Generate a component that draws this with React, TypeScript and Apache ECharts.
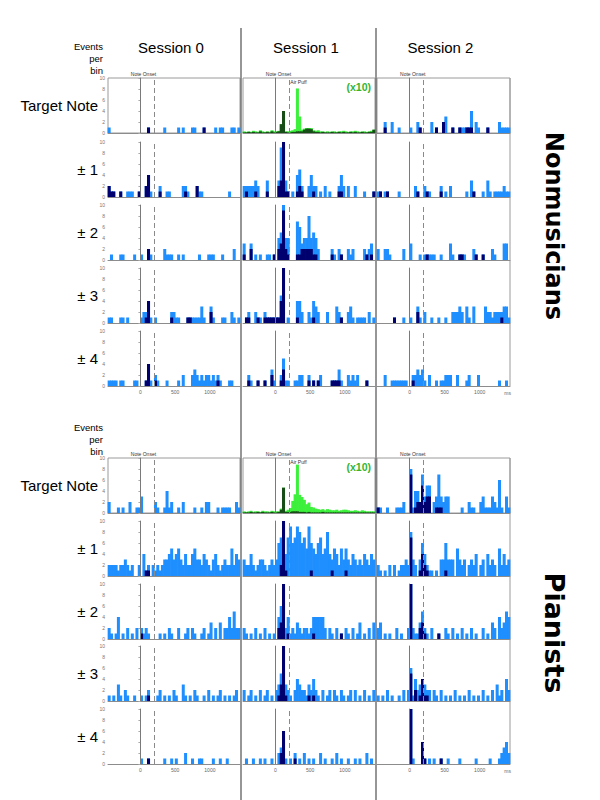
import React, { useEffect, useRef } from "react";
import * as echarts from "echarts";

// ---------- bins ----------
const N_BINS = 57;
const BIN_MS = 100 / 3;
const X_MIN = -14 * BIN_MS;
const X_MAX = X_MIN + N_BINS * BIN_MS;
const X_TICKS = [0, 500, 1000];
const Y_TICKS_MAX = 10;
const ONSET_MS = 0;
const PUFF_MS = 200;

const SESSIONS = ["Session 0", "Session 1", "Session 2"];
const ROW_LABELS = ["Target Note", "± 1", "± 2", "± 3", "± 4"];
const GROUPS = ["Nonmusicians", "Pianists"];

// ---------- data: [bin, count] pairs (total = light, subset = dark) ----------
// Nonmusicians, Target note
const NM_T_S0_ALL = [[0,1],[17,1],[24,1],[30,1],[32,1],[36,1],[37,1],[41,1],[46,1],[48,1],[49,1],[53,1],[54,1],[56,1]];
const NM_T_S0_SUB = [[17,1],[41,1]];
// session 1 target (x10, dense)
const NM_T_S1_ALL = [0.3,0.2,0.3,0.2,0.4,0.3,0.2,0.5,0.3,0.2,0.3,0.2,0.5,0.3,0.3,0.4,1.6,4.0,0.3,0.3,0.4,0.5,0.7,8.1,3.0,0.6,0.8,0.9,0.9,0.9,0.5,0.4,0.5,0.3,0.3,0.2,0.3,0.2,0.3,0.3,0.2,0.3,0.3,0.4,0.3,0.2,0.3,0.3,0.4,0.3,0.2,0.3,0.3,0.2,0.3,0.4,0.6];
const NM_T_S1_SUB = [0.1,0.1,0.2,0.1,0.2,0.1,0.1,0.3,0.1,0.1,0.2,0.1,0.3,0.1,0.2,0.3,1.6,4.0,0.2,0.1,0.1,0.2,0.2,0.3,0.3,0.3,0.6,0.8,0.8,0.7,0.3,0.2,0.2,0.1,0.2,0.1,0.1,0.1,0.2,0.1,0.1,0.2,0.1,0.2,0.1,0.1,0.2,0.1,0.2,0.1,0.1,0.2,0.1,0.1,0.2,0.2,0.6];
const NM_T_S2_ALL = [[3,2],[6,2],[9,1],[14,1],[17,2],[18,1],[23,2],[25,1],[28,2],[29,3],[32,1],[35,1],[36,1],[37,1],[38,1],[39,1],[40,4],[42,2],[43,1],[47,1],[52,2],[53,1],[54,1],[55,1],[56,1]];
const NM_T_S2_SUB = [[3,1],[18,1],[25,1],[28,2],[32,1],[35,1],[38,1],[39,1],[40,1],[47,1]];
// Nonmusicians ±1
const NM_1_S0_ALL = [[0,2],[1,1],[2,1],[5,1],[8,1],[9,1],[10,1],[13,1],[16,2],[17,4],[18,1],[22,2],[25,1],[26,1],[32,2],[33,2],[34,1],[38,2],[39,1],[40,1],[52,1]];
const NM_1_S0_SUB = [[0,2],[1,1],[2,1],[5,1],[13,1],[16,2],[17,4],[22,1],[33,1],[38,2]];
const NM_1_S1_ALL = [[0,2],[1,2],[2,2],[3,2],[4,2],[5,3],[6,2],[10,3],[15,3],[16,9],[17,10],[18,3],[19,1],[21,1],[23,4],[24,5],[25,2],[28,2],[29,4],[30,2],[31,2],[33,1],[35,2],[37,1],[41,2],[42,4],[43,2],[45,2],[48,2],[52,1],[56,1]];
const NM_1_S1_SUB = [[1,1],[5,1],[10,1],[15,2],[16,3],[17,10],[18,1],[19,1],[23,1],[24,2],[25,1],[30,1],[41,1],[42,1],[56,1]];
const NM_1_S2_ALL = [[0,1],[1,1],[3,1],[4,1],[9,1],[16,2],[17,1],[20,2],[21,1],[22,1],[27,2],[29,1],[31,2],[38,1],[40,3],[41,1],[45,1],[47,3],[48,1],[50,1],[51,1],[52,1],[53,1],[54,2],[55,1],[56,1]];
const NM_1_S2_SUB = [[1,1],[4,1],[17,1],[21,1],[27,1],[41,1]];
// Nonmusicians ±2
const NM_2_S0_ALL = [[1,1],[5,1],[6,1],[11,1],[14,1],[17,2],[18,1],[24,2],[25,1],[26,1],[27,1],[30,1],[32,1],[39,1],[43,1],[44,1],[45,1],[49,1],[54,2]];
const NM_2_S0_SUB = [[17,2]];
const NM_2_S1_ALL = [[0,3],[3,3],[5,1],[7,1],[10,1],[11,1],[13,1],[15,4],[16,5],[17,10],[18,4],[19,4],[23,7],[24,6],[25,3],[26,4],[27,4],[28,8],[29,4],[30,5],[31,4],[32,2],[38,2],[39,1],[41,2],[42,1],[45,2],[46,1],[47,2],[52,2],[53,1],[54,2],[55,3]];
const NM_2_S1_SUB = [[0,1],[3,2],[13,1],[15,2],[16,3],[17,9],[18,2],[19,1],[23,1],[24,1],[25,2],[26,2],[27,2],[28,2],[29,2],[30,1],[31,1],[38,1],[42,1],[53,1],[55,1]];
const NM_2_S2_ALL = [[0,2],[3,2],[4,2],[5,1],[11,2],[14,3],[18,1],[20,1],[21,1],[22,1],[23,1],[24,1],[27,1],[31,3],[32,1],[35,1],[36,1],[37,1],[41,2],[42,1],[45,1],[49,2],[50,1],[54,3],[55,3]];
const NM_2_S2_SUB = [[21,1],[35,1],[36,1],[42,1],[45,1]];
// Nonmusicians ±3
const NM_3_S0_ALL = [[0,1],[1,1],[5,1],[6,1],[8,1],[14,1],[15,2],[16,2],[17,4],[18,1],[20,1],[27,2],[28,2],[29,1],[30,1],[34,1],[35,1],[36,1],[37,1],[38,1],[39,1],[40,3],[41,1],[44,3],[45,1],[49,1],[50,1],[53,2],[54,1],[56,1]];
const NM_3_S0_SUB = [[16,1],[17,4],[27,1],[34,1],[35,1],[44,2]];
const NM_3_S1_ALL = [[1,1],[2,2],[5,2],[6,1],[7,1],[9,2],[10,1],[11,1],[12,1],[13,1],[14,1],[15,1],[16,5],[17,10],[19,1],[23,4],[24,4],[25,2],[28,2],[29,1],[30,4],[31,3],[32,2],[36,2],[40,3],[41,2],[42,1],[45,2],[46,3],[47,1],[49,1],[50,1],[51,1],[52,1],[54,2],[56,1]];
const NM_3_S1_SUB = [[1,1],[2,1],[6,1],[9,1],[10,1],[11,1],[12,1],[13,1],[14,1],[15,1],[16,4],[17,10],[23,1],[30,1],[42,1]];
const NM_3_S2_ALL = [[7,1],[11,1],[14,1],[17,3],[18,1],[20,2],[23,1],[26,1],[29,1],[32,2],[33,2],[34,2],[35,3],[36,2],[38,3],[39,1],[41,3],[46,3],[47,2],[48,2],[49,1],[50,2],[51,2],[52,2],[53,2],[54,3],[55,3],[56,1]];
const NM_3_S2_SUB = [[7,1],[17,2],[53,1]];
// Nonmusicians ±4
const NM_4_S0_ALL = [[0,1],[1,1],[2,1],[3,1],[5,1],[6,1],[11,1],[12,1],[16,1],[17,4],[18,1],[20,2],[21,1],[25,1],[30,1],[32,2],[36,2],[37,3],[38,2],[39,1],[40,2],[41,1],[42,2],[43,2],[44,1],[45,2],[46,1],[47,2],[48,1],[52,1],[53,1]];
const NM_4_S0_SUB = [[16,1],[17,4],[20,1],[47,1]];
const NM_4_S1_ALL = [[2,2],[3,1],[6,1],[9,1],[12,3],[13,1],[16,2],[17,5],[18,1],[19,1],[22,1],[23,1],[24,2],[25,2],[28,2],[30,1],[32,1],[33,2],[38,1],[39,1],[40,1],[41,3],[42,1],[45,2],[46,1],[47,2],[48,1],[49,2],[53,1]];
const NM_4_S1_SUB = [[2,1],[6,1],[9,1],[12,2],[16,1],[17,3],[28,1],[30,1],[32,1],[38,1],[39,1],[40,1],[41,1],[53,1]];
const NM_4_S2_ALL = [[3,2],[6,1],[7,1],[8,1],[9,1],[10,1],[11,1],[12,1],[15,2],[16,2],[17,3],[18,2],[19,3],[20,1],[22,2],[25,1],[27,1],[28,1],[29,2],[30,2],[31,2],[34,2],[38,1],[39,2],[43,2],[52,1],[55,1]];
const NM_4_S2_SUB = [[15,1]];

// Pianists, Target note
const P_T_S0_ALL = [[0,2],[4,1],[6,1],[9,2],[12,1],[13,1],[14,3],[20,2],[21,1],[24,1],[25,4],[26,1],[27,2],[30,1],[32,2],[37,1],[40,1],[42,2],[43,2],[47,1],[49,1],[50,1],[51,1],[52,1],[55,2],[56,1]];
const P_T_S0_SUB = [];
const P_T_S1_ALL = [0.3,0.2,0.3,0.4,0.2,0.3,0.3,0.2,0.4,0.3,0.3,0.2,0.4,0.3,0.3,0.3,0.8,4.6,0.4,0.6,0.9,2.2,3.4,8.8,3.3,2.9,2.4,1.6,1.9,1.1,1.0,0.8,0.7,0.6,0.7,0.5,0.7,0.6,0.5,0.5,0.6,0.4,0.5,0.6,0.6,0.5,0.4,0.4,0.5,0.4,0.3,0.5,0.4,0.3,0.3,0.3,0.3];
const P_T_S1_SUB = [0.1,0.1,0.1,0.2,0.1,0.1,0.2,0.1,0.2,0.1,0.1,0.1,0.2,0.1,0.1,0.2,0.6,4.6,0.2,0.2,0.2,0.3,0.3,0.3,0.2,0.2,0.2,0.1,0.2,0.1,0.1,0.1,0.1,0.1,0.2,0.1,0.1,0.1,0.1,0.1,0.1,0.1,0.1,0.1,0.1,0.1,0.1,0.1,0.1,0.1,0.1,0.1,0.1,0.1,0.1,0.1,0.1];
const P_T_S2_ALL = [[0,1],[1,1],[4,1],[8,1],[9,1],[10,1],[11,2],[14,8],[15,1],[16,4],[17,4],[18,2],[19,7],[20,3],[21,5],[22,5],[24,2],[25,3],[26,7],[27,3],[28,2],[29,3],[30,3],[36,1],[39,2],[40,1],[41,1],[44,2],[45,3],[46,1],[47,1],[48,1],[49,3],[50,2],[51,1],[52,6],[53,1],[55,3],[56,1]];
const P_T_S2_SUB = [[0,1],[14,7],[16,1],[17,2],[18,2],[19,5],[20,2],[21,3],[22,3],[25,1],[26,1],[27,1]];
// Pianists ±1
const P_1_S0_ALL = [[0,2],[1,2],[2,2],[3,2],[4,1],[5,2],[6,2],[7,3],[8,2],[9,1],[10,2],[13,2],[15,4],[16,1],[17,2],[19,2],[20,1],[21,2],[22,1],[23,2],[24,3],[25,3],[26,4],[27,5],[28,3],[29,4],[30,5],[31,3],[32,2],[33,4],[34,2],[35,2],[36,4],[37,5],[38,3],[39,3],[40,2],[41,4],[42,3],[43,2],[44,1],[45,3],[46,4],[47,2],[48,1],[49,2],[50,3],[51,2],[52,2],[53,5],[54,2],[55,4],[56,3]];
const P_1_S0_SUB = [[16,1],[17,1]];
const P_1_S1_ALL = [[0,3],[1,2],[2,2],[3,4],[4,2],[5,1],[6,2],[7,3],[8,3],[9,2],[10,1],[11,2],[12,3],[13,2],[14,3],[15,6],[16,7],[17,10],[18,4],[19,7],[20,9],[21,6],[22,7],[23,9],[24,8],[25,6],[26,7],[27,5],[28,9],[29,6],[30,5],[31,4],[32,6],[33,7],[34,4],[35,5],[36,8],[37,4],[38,3],[39,5],[40,4],[41,2],[42,5],[43,3],[44,5],[45,3],[46,2],[47,4],[48,3],[49,2],[50,3],[51,2],[52,4],[53,3],[54,2],[55,4],[56,3]];
const P_1_S1_SUB = [[16,2],[17,10],[18,1],[29,1],[38,1],[44,1]];
const P_1_S2_ALL = [[0,2],[1,1],[3,1],[5,2],[7,2],[9,1],[10,2],[11,2],[12,3],[13,2],[14,8],[15,3],[16,2],[18,3],[19,6],[20,4],[21,2],[22,1],[23,1],[25,1],[27,3],[28,3],[29,6],[30,3],[31,3],[32,3],[34,5],[35,3],[36,2],[37,3],[39,2],[40,3],[41,2],[42,4],[44,2],[45,3],[47,4],[48,2],[49,3],[50,2],[52,5],[53,2],[54,4],[55,2],[56,3]];
const P_1_S2_SUB = [[14,7],[18,1],[19,4],[20,2],[21,1],[29,1]];
// Pianists ±2
const P_2_S0_ALL = [[0,2],[1,1],[3,1],[4,4],[6,1],[8,2],[10,1],[12,2],[14,2],[15,1],[16,2],[17,1],[22,1],[24,1],[26,2],[27,1],[30,2],[33,1],[34,2],[36,2],[37,1],[40,1],[41,2],[43,1],[44,3],[46,2],[48,3],[50,2],[51,2],[52,4],[53,2],[54,5],[55,2],[56,2]];
const P_2_S0_SUB = [[14,1]];
const P_2_S1_ALL = [[0,2],[1,1],[3,1],[5,2],[7,1],[9,2],[11,1],[13,1],[15,4],[16,6],[17,10],[18,2],[19,4],[20,1],[21,2],[22,1],[23,3],[24,2],[25,1],[26,2],[27,2],[28,1],[29,2],[30,4],[31,4],[32,4],[33,4],[34,4],[35,2],[37,2],[38,1],[40,2],[42,1],[44,2],[45,1],[47,2],[49,1],[50,3],[52,1],[54,2],[56,3]];
const P_2_S1_SUB = [[15,2],[16,3],[17,10],[19,1],[30,1],[42,1]];
const P_2_S2_ALL = [[0,2],[1,3],[3,1],[5,1],[8,2],[10,1],[13,2],[14,10],[15,2],[16,1],[17,1],[18,3],[19,5],[20,2],[21,1],[23,2],[26,1],[29,2],[30,1],[32,2],[34,1],[36,2],[38,1],[40,2],[42,1],[45,2],[47,1],[49,3],[50,2],[52,4],[53,2],[54,3],[55,5],[56,4]];
const P_2_S2_SUB = [[14,10],[18,2],[19,3],[20,1],[26,1]];
// Pianists ±3
const P_3_S0_ALL = [[0,1],[2,1],[4,3],[5,1],[7,2],[8,1],[11,1],[14,1],[16,1],[17,2],[21,1],[22,2],[24,1],[26,1],[28,2],[29,1],[32,3],[33,1],[35,1],[37,2],[38,1],[41,1],[43,2],[45,1],[47,1],[48,2],[50,1],[52,1],[54,1],[55,2]];
const P_3_S0_SUB = [[17,1]];
const P_3_S1_ALL = [[0,2],[2,1],[3,2],[5,1],[7,2],[9,1],[10,2],[12,1],[14,2],[15,3],[16,5],[17,10],[18,3],[19,2],[20,1],[22,2],[23,4],[24,3],[25,2],[26,2],[27,1],[28,3],[29,2],[30,4],[31,2],[32,1],[34,2],[36,1],[37,2],[39,2],[40,1],[42,2],[43,1],[45,1],[46,2],[48,2],[50,1],[52,2],[54,1],[56,2]];
const P_3_S1_SUB = [[15,1],[16,3],[17,10],[18,1],[28,1],[30,1]];
const P_3_S2_ALL = [[0,1],[2,1],[4,2],[6,1],[9,1],[11,2],[13,2],[14,6],[15,1],[16,4],[17,2],[18,3],[19,4],[20,3],[21,2],[22,2],[24,2],[25,1],[27,2],[29,1],[31,1],[33,2],[35,1],[37,1],[39,2],[41,1],[43,1],[45,2],[47,1],[49,2],[51,3],[52,1],[53,2],[55,4],[56,2]];
const P_3_S2_SUB = [[14,5],[16,2],[18,1],[19,4],[20,1],[21,1]];
// Pianists ±4
const P_4_S0_ALL = [[14,1],[17,1],[24,1],[27,1],[29,1],[33,2],[36,1],[39,1],[40,1],[45,1],[48,1],[51,1]];
const P_4_S0_SUB = [[17,1]];
const P_4_S1_ALL = [[1,1],[4,1],[7,1],[9,1],[12,1],[15,2],[16,3],[17,6],[18,1],[20,1],[22,2],[24,1],[26,2],[28,1],[30,1],[33,2],[35,1],[38,1],[40,2],[42,1],[45,1],[48,1],[50,1],[53,2],[55,1]];
const P_4_S1_SUB = [[16,2],[17,6],[22,1]];
const P_4_S2_ALL = [[14,10],[15,1],[19,4],[20,1],[22,1],[24,1],[27,1],[30,1],[35,1],[42,1],[48,1],[52,1],[53,2],[54,3],[55,4],[56,2]];
const P_4_S2_SUB = [[14,10],[19,4],[20,1],[27,1]];

const PANELS = [
  [
    [[NM_T_S0_ALL, NM_T_S0_SUB], [NM_T_S1_ALL, NM_T_S1_SUB], [NM_T_S2_ALL, NM_T_S2_SUB]],
    [[NM_1_S0_ALL, NM_1_S0_SUB], [NM_1_S1_ALL, NM_1_S1_SUB], [NM_1_S2_ALL, NM_1_S2_SUB]],
    [[NM_2_S0_ALL, NM_2_S0_SUB], [NM_2_S1_ALL, NM_2_S1_SUB], [NM_2_S2_ALL, NM_2_S2_SUB]],
    [[NM_3_S0_ALL, NM_3_S0_SUB], [NM_3_S1_ALL, NM_3_S1_SUB], [NM_3_S2_ALL, NM_3_S2_SUB]],
    [[NM_4_S0_ALL, NM_4_S0_SUB], [NM_4_S1_ALL, NM_4_S1_SUB], [NM_4_S2_ALL, NM_4_S2_SUB]],
  ],
  [
    [[P_T_S0_ALL, P_T_S0_SUB], [P_T_S1_ALL, P_T_S1_SUB], [P_T_S2_ALL, P_T_S2_SUB]],
    [[P_1_S0_ALL, P_1_S0_SUB], [P_1_S1_ALL, P_1_S1_SUB], [P_1_S2_ALL, P_1_S2_SUB]],
    [[P_2_S0_ALL, P_2_S0_SUB], [P_2_S1_ALL, P_2_S1_SUB], [P_2_S2_ALL, P_2_S2_SUB]],
    [[P_3_S0_ALL, P_3_S0_SUB], [P_3_S1_ALL, P_3_S1_SUB], [P_3_S2_ALL, P_3_S2_SUB]],
    [[P_4_S0_ALL, P_4_S0_SUB], [P_4_S1_ALL, P_4_S1_SUB], [P_4_S2_ALL, P_4_S2_SUB]],
  ],
];

// ---------- layout & style ----------
const COL_LEFT = [108, 243, 377];
const COL_W = [132, 132, 133];
const ROW_TOP = [
  [78, 142, 205, 268, 331],
  [458, 521, 584, 646, 709],
];
const PANEL_H = 55;
const FONT = "'Liberation Sans', Arial, sans-serif";
const C_LIGHT = "#1f8fff";
const C_DARK = "#00006e";
const C_GREEN = "#3cf03c";
const C_DGREEN = "#174d17";
const C_AXIS = "#8c8c8c";

function toPoints(d: any[], color: string) {
  const arr = new Array(N_BINS).fill(0);
  if (d.length && Array.isArray(d[0])) {
    d.forEach((p: number[]) => (arr[p[0]] = p[1]));
  } else {
    d.forEach((v: number, i: number) => (arr[i] = v));
  }
  return arr.map((v, i) => ({
    value: [X_MIN + (i + 0.5) * BIN_MS, v],
    itemStyle: v > 0 ? { color } : { color, opacity: 0 },
  }));
}

function xPix(c: number, ms: number) {
  return COL_LEFT[c] + ((ms - X_MIN) / (X_MAX - X_MIN)) * COL_W[c];
}

const txt = (x: number, y: number, text: string, font: string, fill: string, align: string, extra: any = {}) => ({
  type: "text",
  x,
  y,
  ...extra,
  style: { text, font, fill, align, verticalAlign: "middle", textAlign: align, textVerticalAlign: "middle" },
});

function buildOption() {
  const grid: any[] = [];
  const xAxis: any[] = [];
  const yAxis: any[] = [];
  const series: any[] = [];
  const graphic: any[] = [];

  PANELS.forEach((rows, g) => {
    rows.forEach((cols, r) => {
      cols.forEach((pair, c) => {
        const k = grid.length;
        const isTarget = r === 0;
        const isGreen = isTarget && c === 1;
        // slight overlap between neighbouring bins so the bars merge without seams
        const binPx = COL_W[c] / N_BINS + 0.7;
        grid.push({
          left: COL_LEFT[c],
          top: ROW_TOP[g][r],
          width: COL_W[c],
          height: PANEL_H,
          show: isTarget,
          borderColor: "#9a9a9a",
          borderWidth: 1,
          backgroundColor: "transparent",
        });
        xAxis.push({
          gridIndex: k,
          type: "value",
          min: X_MIN,
          max: X_MAX,
          axisLine: { show: true, onZero: false, lineStyle: { color: C_AXIS, width: 1 } },
          axisTick: { show: false },
          splitLine: { show: false },
          axisLabel: {
            show: r === 4,
            customValues: X_TICKS,
            formatter: (v: number) => String(Math.round(v)),
            fontSize: 5,
            color: "#666",
            margin: 3,
            fontFamily: FONT,
          },
        });
        yAxis.push({
          gridIndex: k,
          type: "value",
          min: 0,
          max: Y_TICKS_MAX,
          interval: 2,
          axisLine: { show: true, lineStyle: { color: C_AXIS, width: 1 } },
          axisTick: { show: c === 0, length: 2, lineStyle: { color: "#aaa" } },
          axisLabel: { show: c === 0, fontSize: 5, color: "#777", margin: 3, fontFamily: FONT },
          splitLine: { show: false },
        });
        series.push({
          type: "bar",
          xAxisIndex: k,
          yAxisIndex: k,
          data: toPoints(pair[0], isGreen ? C_GREEN : C_LIGHT),
          barWidth: binPx,
          barGap: "-100%",
          silent: true,
          markLine: {
            silent: true,
            symbol: ["none", "none"],
            label: { show: false },
            data: [
              { xAxis: ONSET_MS, lineStyle: { type: "solid", color: "#7a7a7a", width: 1 } },
              { xAxis: PUFF_MS, lineStyle: { type: [5, 3], color: "#8a8a8a", width: 1 } },
            ],
          },
        });
        series.push({
          type: "bar",
          xAxisIndex: k,
          yAxisIndex: k,
          data: toPoints(pair[1], isGreen ? C_DGREEN : C_DARK),
          barWidth: binPx,
          barGap: "-100%",
          silent: true,
        });

        if (isTarget) {
          graphic.push(txt(xPix(c, ONSET_MS) + 3, ROW_TOP[g][r] - 4, "Note Onset", `5px ${FONT}`, "#333", "center"));
          if (c === 1) {
            graphic.push(txt(xPix(c, PUFF_MS) + 1, ROW_TOP[g][r] + 3.5, "Air Puff", `5px ${FONT}`, "#333", "left"));
            graphic.push(txt(COL_LEFT[c] + COL_W[c] - 4, ROW_TOP[g][r] + 9, "(x10)", `bold 10.5px ${FONT}`, "#33b533", "right"));
          }
        }
      });
      graphic.push(txt(98, ROW_TOP[g][r] + 27, ROW_LABELS[r], `15px ${FONT}`, "#000", "right"));
    });
    const ey = g === 0 ? [46, 58, 70] : [427, 439, 451];
    ["Events", "per", "bin"].forEach((t, i) => {
      graphic.push(txt(103, ey[i], t, `9.5px ${FONT}`, "#000", "right"));
    });
    graphic.push({
      type: "line",
      shape: { x1: 510, y1: ROW_TOP[g][0], x2: 510, y2: ROW_TOP[g][4] + PANEL_H },
      style: { stroke: "#9a9a9a", lineWidth: 1 },
    });
    graphic.push(
      txt(554, g === 0 ? 226 : 633, GROUPS[g], `bold ${g === 0 ? 24 : 27}px 'DejaVu Sans', sans-serif`, "#000", "center", { rotation: -Math.PI / 2 })
    );
    graphic.push(txt(xPix(2, 1400), ROW_TOP[g][4] + PANEL_H + 7, "ms", `5px ${FONT}`, "#666", "center"));
  });

  SESSIONS.forEach((s, c) => {
    graphic.push(txt(COL_LEFT[c] + COL_W[c] / 2 - 3, 47, s, `15px ${FONT}`, "#000", "center"));
  });
  [241, 376].forEach((x) => {
    graphic.push({
      type: "line",
      shape: { x1: x, y1: 28, x2: x, y2: 800 },
      style: { stroke: "#505050", lineWidth: 1.2 },
    });
  });

  return {
    animation: false,
    backgroundColor: "#fff",
    grid,
    xAxis,
    yAxis,
    series,
    graphic,
  };
}

export default function App() {
  const ref = useRef<HTMLDivElement>(null);
  useEffect(() => {
    if (!ref.current) return;
    const chart = echarts.init(ref.current, null, { renderer: "svg" });
    chart.setOption(buildOption() as any);
    return () => chart.dispose();
  }, []);
  return (
    <div
      ref={ref}
      style={{ position: "fixed", left: 0, top: 0, width: 600, height: 800, background: "#fff" }}
    />
  );
}
